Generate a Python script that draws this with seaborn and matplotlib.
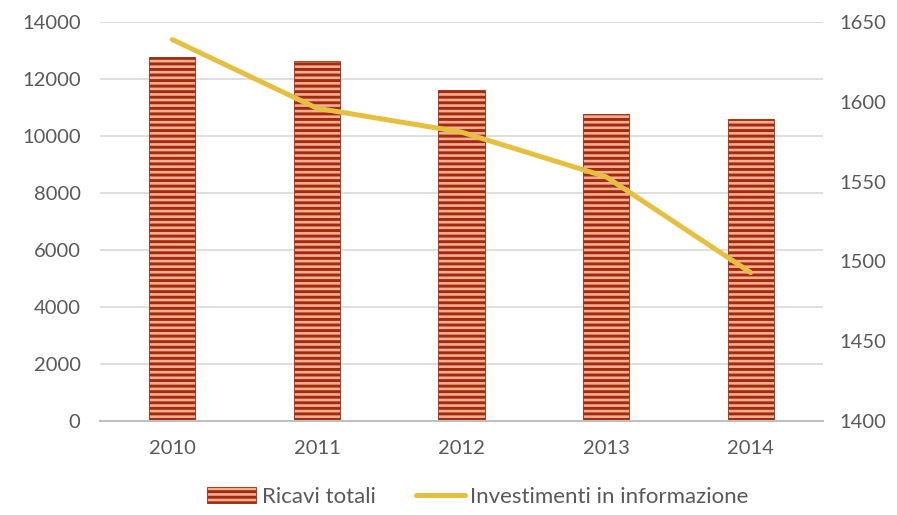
import numpy as np
import pandas as pd
import matplotlib
matplotlib.use("Agg")
import matplotlib.pyplot as plt
import seaborn as sns
from matplotlib.patches import Patch
from matplotlib.lines import Line2D

years = ["2010", "2011", "2012", "2013", "2014"]
ricavi = [12780, 12640, 11620, 10770, 10600]
investimenti = [1639, 1596, 1581, 1553, 1493]

bar_face = "#F3AE96"
bar_dark = "#A32A0B"
line_col = "#E5C040"
text_col = "#595959"

sns.set_theme(style="white")
plt.rcParams["font.family"] = ["Lato", "DejaVu Sans"]
plt.rcParams["hatch.linewidth"] = 2.1

data = pd.DataFrame({"anno": years, "ricavi": ricavi, "inv": investimenti})

fig = plt.figure(figsize=(8.97, 5.15), dpi=100)
ax = fig.add_axes([100 / 897, 1 - 421 / 515, 723 / 897, 399 / 515])

sns.barplot(data=data, x="anno", y="ricavi", ax=ax, color=bar_face,
            width=0.32, saturation=1, edgecolor=bar_dark, linewidth=0.6)
for p in ax.patches:
    p.set_hatch("---")

ax.set_ylim(0, 14000)
ax.set_yticks(np.arange(0, 14001, 2000))
ax.set_xlim(-0.5, 4.5)
ax.yaxis.grid(True, color="#D9D9D9", linewidth=1.2)
ax.set_axisbelow(True)
for s in ["top", "left", "right"]:
    ax.spines[s].set_visible(False)
ax.spines["bottom"].set_color("#BFBFBF")
ax.spines["bottom"].set_linewidth(1.5)
ax.set_xlabel("")
ax.set_ylabel("")
ax.tick_params(axis="y", length=0, pad=14, labelsize=14.5, labelcolor=text_col)
ax.tick_params(axis="x", length=0, pad=14, labelsize=14.5, labelcolor=text_col)

ax2 = ax.twinx()
sns.lineplot(x=np.arange(len(years)), y=investimenti, ax=ax2, color=line_col,
             linewidth=3.6, solid_capstyle="round")
ax2.set_ylim(1400, 1650)
ax2.set_yticks(np.arange(1400, 1651, 50))
ax2.set_xlim(-0.5, 4.5)
for s in ["top", "left", "right", "bottom"]:
    ax2.spines[s].set_visible(False)
ax2.tick_params(axis="y", length=0, pad=12, labelsize=14.5, labelcolor=text_col)
ax2.set_ylabel("")

handles = [
    Patch(facecolor=bar_face, edgecolor=bar_dark, hatch="---", linewidth=0.6),
    Line2D([0], [0], color=line_col, linewidth=3.6, solid_capstyle="round"),
]
fig.legend(handles, ["Ricavi totali", "Investimenti in informazione"],
           loc="center", bbox_to_anchor=(478 / 897, 1 - 497 / 515), ncol=2,
           frameon=False, fontsize=16, labelcolor=text_col,
           handlelength=2.2, handletextpad=0.25, columnspacing=1.8)

fig.savefig("out.png", dpi=100)
